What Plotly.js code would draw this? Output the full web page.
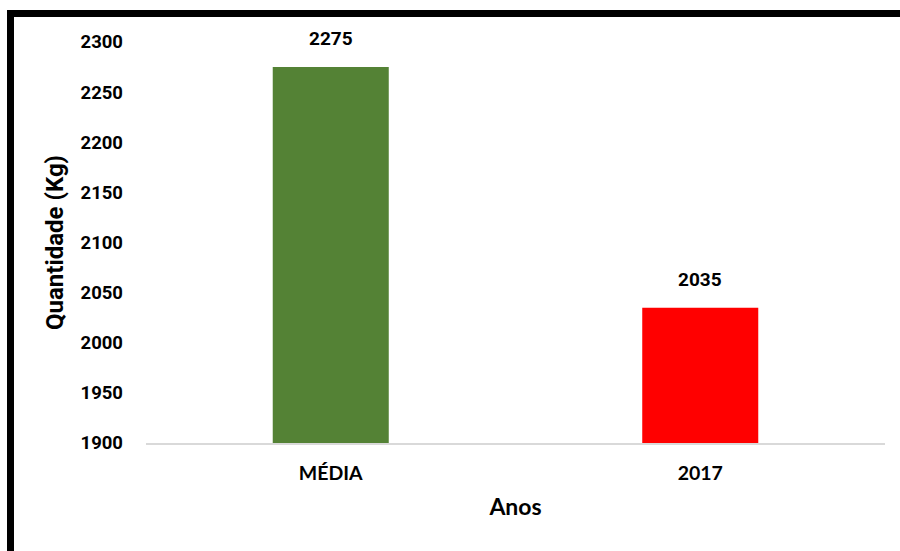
<!DOCTYPE html>
<html>
<head>
<meta charset="utf-8">
<script src="https://cdn.plot.ly/plotly-3.0.1.min.js"></script>
<style>
html,body{margin:0;padding:0;background:#fff;}
#wrap{position:relative;width:900px;height:551px;overflow:hidden;}
#chart{position:absolute;left:0;top:0;width:900px;height:551px;}
#frame{position:absolute;left:7px;top:10px;width:1000px;height:1000px;border-left:7px solid #000;border-top:7px solid #000;pointer-events:none;}
</style>
</head>
<body>
<div id="wrap"><div id="chart"></div><div id="frame"></div></div>
<script>
var categories = ["MÉDIA", "2017"];
var values = [2275, 2035];
var barColors = ["#548235", "#ff0000"];
var yTicks = [1900, 1950, 2000, 2050, 2100, 2150, 2200, 2250, 2300];

var trace = {
  type: "bar",
  x: categories,
  y: values,
  marker: {color: barColors},
  hoverinfo: "none"
};

var annotations = categories.map(function(c, i){
  return {
    x: i, y: values[i], xref: "x", yref: "y",
    text: String(values[i]), showarrow: false,
    yanchor: "bottom", yshift: 15,
    font: {family: "Roboto, Arial, sans-serif", size: 19, color: "#000", weight: "bold"}
  };
});

var layout = {
  width: 900, height: 551,
  margin: {l: 146, r: 15, t: 41.5, b: 107.5},
  paper_bgcolor: "#fff", plot_bgcolor: "#fff",
  showlegend: false,
  bargap: 0.686,
  xaxis: {
    type: "category",
    range: [-0.5, 1.5],
    categoryorder: "array", categoryarray: categories,
    showgrid: false, zeroline: false,
    showline: true, linecolor: "#d9d9d9", linewidth: 2,
    ticks: "", ticklabelstandoff: 12,
    tickfont: {family: "Lato, 'Open Sans', sans-serif", size: 19.5, color: "#000", weight: "bold"},
    title: {text: "Anos", standoff: 15, font: {family: "Lato, 'Open Sans', sans-serif", size: 23, color: "#000", weight: "bold"}},
    automargin: false
  },
  yaxis: {
    range: [1900, 2300],
    tickvals: yTicks,
    showgrid: false, zeroline: false, showline: false,
    ticks: "", ticklabelstandoff: 22,
    tickfont: {family: "Roboto, Arial, sans-serif", size: 18.5, color: "#000", weight: "bold"},
    title: {text: "Quantidade (Kg)", standoff: 10, font: {family: "Roboto, Arial, sans-serif", size: 24, color: "#000", weight: "bold"}},
    automargin: false
  },
  annotations: annotations
};

Plotly.newPlot("chart", [trace], layout, {displayModeBar: false, staticPlot: true});
</script>
</body>
</html>
